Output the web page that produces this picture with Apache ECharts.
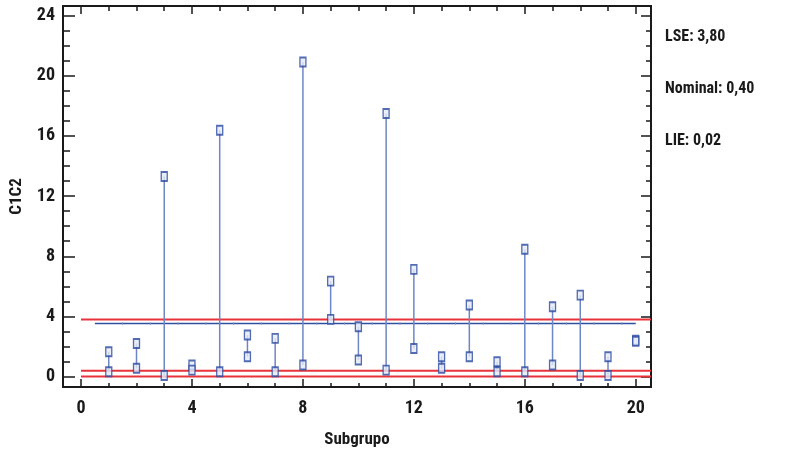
<!DOCTYPE html>
<html>
<head>
<meta charset="utf-8">
<script src="https://cdn.jsdelivr.net/npm/echarts@6/dist/echarts.min.js"></script>
<style>html,body{margin:0;padding:0;background:#fff}#c{width:785px;height:450px}</style>
</head>
<body>
<div id="c"></div>
<script>
// ---- data ----
var subgroups = [1,2,3,4,5,6,7,8,9,10,11,12,13,14,15,16,17,18,19,20];
var maxVals = [1.66,2.21,13.30,0.78,16.37,2.77,2.55,20.90,6.35,3.32,17.48,7.13,1.33,4.76,1.00,8.47,4.65,5.42,1.33,2.42];
var minVals = [0.33,0.56,0.09,0.44,0.33,1.33,0.33,0.78,3.81,1.11,0.44,1.88,0.56,1.33,0.33,0.33,0.78,0.09,0.09,2.36];
var limitNames = ['LSE','Nominal','LIE'];
var limitValues = [3.80, 0.40, 0.02];
var limitLabels = ['LSE: 3,80','Nominal: 0,40','LIE: 0,02'];
var centerValue = 3.54;
var centerRange = [0.5, 20];
var centerTickX = [1.5,2.5,3.5,4.5,5.5,6.5,7.5,8.5,9.5,10.5,11.5,12.5,13.5,14.5,15.5,16.5,17.5,18.5,19.5];
var xMajorTicks = [0,4,8,12,16,20];
var xMinorTicks = [0,1,2,3,4,5,6,7,8,9,10,11,12,13,14,15,16,17,18,19,20];
var yMajorTicks = [0,4,8,12,16,20,24];
var yMinorTicks = [0,1,2,3,4,5,6,7,8,9,10,11,12,13,14,15,16,17,18,19,20,21,22,23,24];
var xRange = [-0.65, 20.55];
var yRange = [-0.68, 24.62];

var FONT = "'Liberation Sans Narrow','Arial Narrow','Roboto Condensed','Liberation Sans',sans-serif";
var chart = echarts.init(document.getElementById('c'), null, {renderer:'canvas'});

function xAx(pos, ticks, len, labels) {
  return {
    type:'value', position:pos, min:xRange[0], max:xRange[1],
    axisLine:{show:true, onZero:false, lineStyle:{color:'#1a1a1a', width:2}},
    axisTick:{show:true, inside:true, length:len, customValues:ticks, lineStyle:{color:'#1a1a1a', width:1.5}},
    axisLabel:labels ? {show:true, customValues:ticks, margin:12, fontFamily:FONT, fontWeight:'bold', fontSize:18, color:'#1a1a1a'} : {show:false},
    splitLine:{show:false}
  };
}
function yAx(pos, ticks, len, labels) {
  return {
    type:'value', position:pos, min:yRange[0], max:yRange[1],
    axisLine:{show:true, onZero:false, lineStyle:{color:'#1a1a1a', width:2}},
    axisTick:{show:true, inside:true, length:len, customValues:ticks, lineStyle:{color:'#1a1a1a', width:1.5}},
    axisLabel:labels ? {show:true, customValues:ticks, margin:8, fontFamily:FONT, fontWeight:'bold', fontSize:18, color:'#1a1a1a'} : {show:false},
    splitLine:{show:false}
  };
}
var xAxes = [xAx('bottom', xMajorTicks, 8, true), xAx('bottom', xMinorTicks, 4, false), xAx('top', xMajorTicks, 8, false), xAx('top', xMinorTicks, 5, false)];
xAxes[0].name = 'Subgrupo';
xAxes[0].nameLocation = 'middle';
xAxes[0].nameGap = 44;
xAxes[0].nameTextStyle = {fontFamily:FONT, fontWeight:'bold', fontSize:17, color:'#1a1a1a'};
var yAxes = [yAx('left', yMajorTicks, 12, true), yAx('left', yMinorTicks, 7, false), yAx('right', yMajorTicks, 10, false), yAx('right', yMinorTicks, 5, false)];
yAxes[0].name = 'C1C2';
yAxes[0].nameLocation = 'middle';
yAxes[0].nameGap = 38;
yAxes[0].nameRotate = 90;
yAxes[0].nameTextStyle = {fontFamily:FONT, fontWeight:'bold', fontSize:17, color:'#1a1a1a'};

var series = [];
limitValues.forEach(function(v, i){
  series.push({
    name: limitNames[i], type:'line', xAxisIndex:0, yAxisIndex:0, symbol:'none', silent:true,
    lineStyle:{color:'#e8333b', width:2},
    data:[[0, v],[xRange[1], v]], z:2
  });
});
series.push({
  name:'center', type:'line', xAxisIndex:0, yAxisIndex:0, symbol:'none', silent:true,
  lineStyle:{color:'#2f4fa0', width:1.5},
  data:[[centerRange[0], centerValue],[centerRange[1], centerValue]], z:3
});
series.push({
  name:'centerTicks', type:'scatter', xAxisIndex:0, yAxisIndex:0, silent:true,
  symbol:'rect', symbolSize:[1,3],
  itemStyle:{color:'#8a9cc8'},
  data:centerTickX.map(function(x){return [x, centerValue];}), z:4
});
series.push({
  name:'range', type:'custom', xAxisIndex:0, yAxisIndex:0, silent:true,
  renderItem:function(params, api){
    var p1 = api.coord([api.value(0), api.value(1)]);
    var p2 = api.coord([api.value(0), api.value(2)]);
    return {type:'line', shape:{x1:p1[0], y1:p1[1], x2:p2[0], y2:p2[1]}, style:{stroke:'#6f86c4', lineWidth:1.5}};
  },
  data:subgroups.map(function(s,i){return [s, minVals[i], maxVals[i]];}), z:5
});
var boxStyle = {color:'#e4eaf6', borderColor:'#2a48a0', borderWidth:1.6};
series.push({name:'max', type:'scatter', xAxisIndex:0, yAxisIndex:0, symbol:'rect', symbolSize:[6,9], itemStyle:boxStyle,
  data:subgroups.map(function(s,i){return [s, maxVals[i]];}), z:6});
series.push({name:'min', type:'scatter', xAxisIndex:0, yAxisIndex:0, symbol:'rect', symbolSize:[6,9], itemStyle:boxStyle,
  data:subgroups.map(function(s,i){return [s, minVals[i]];}), z:6});

var graphics = limitLabels.map(function(t, i){
  return {type:'text', left:665, top:[29,81,133][i], style:{text:t, fontFamily:FONT, fontWeight:'bold', fontSize:16, fill:'#1a1a1a'}};
});

chart.setOption({
  animation:false,
  backgroundColor:'#fff',
  grid:{left:63, right:134, top:6, bottom:63, containLabel:false, outerBoundsMode:'none'},
  xAxis:xAxes,
  yAxis:yAxes,
  series:series,
  graphic:graphics
});
</script>
</body>
</html>
